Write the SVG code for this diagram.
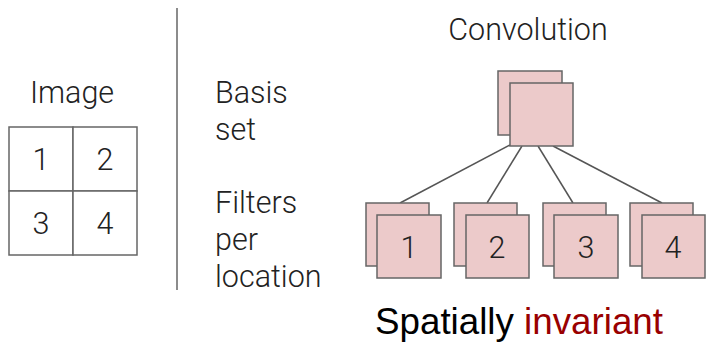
<svg xmlns="http://www.w3.org/2000/svg" width="707" height="344" viewBox="0 0 707 344">
  <style>
    .lbl { font-family: Roboto, "Open Sans", "Liberation Sans", sans-serif; font-weight: 300; font-size: 30.5px; fill: #222; }
    .mid { text-anchor: middle; }
    .cell { fill: #ffffff; stroke: #666666; stroke-width: 1.5; }
    .sq { fill: #eccaca; stroke: #666666; stroke-width: 1.5; }
    .edge { stroke: #555555; stroke-width: 1.5; fill: none; }
    .big { font-family: "Liberation Sans", Arial, sans-serif; font-size: 36px; }
  </style>
  <rect width="707" height="344" fill="#ffffff"/>

  <!-- input image: 2x2 grid of locations -->
  <g id="image">
    <text class="lbl mid" x="72" y="103">Image</text>
    <rect class="cell" x="9" y="127" width="64" height="64"/>
    <rect class="cell" x="73" y="127" width="64" height="64"/>
    <rect class="cell" x="9" y="191" width="64" height="64"/>
    <rect class="cell" x="73" y="191" width="64" height="64"/>
    <text class="lbl mid" x="41" y="170">1</text>
    <text class="lbl mid" x="105" y="170">2</text>
    <text class="lbl mid" x="41" y="234">3</text>
    <text class="lbl mid" x="105" y="234">4</text>
  </g>

  <!-- divider -->
  <line x1="177" y1="8" x2="177" y2="290" stroke="#666666" stroke-width="1.5"/>

  <!-- row labels -->
  <g id="labels">
    <text class="lbl" x="215" y="103">Basis</text>
    <text class="lbl" x="215" y="140">set</text>
    <text class="lbl" x="215" y="213">Filters</text>
    <text class="lbl" x="215" y="250">per</text>
    <text class="lbl" x="215" y="287">location</text>
  </g>

  <text class="lbl mid" x="528" y="40">Convolution</text>

  <!-- connectors from shared filter to each location -->
  <g id="connectors">
    <line class="edge" x1="510" y1="145" x2="400" y2="203"/>
    <line class="edge" x1="522" y1="146" x2="487" y2="203"/>
    <line class="edge" x1="538" y1="146" x2="573" y2="203"/>
    <line class="edge" x1="553" y1="146" x2="662" y2="203"/>
  </g>

  <!-- shared basis filter -->
  <g id="basis">
    <rect class="sq" x="498" y="71" width="64" height="64"/>
    <rect class="sq" x="510" y="83" width="63" height="63"/>
  </g>

  <!-- per-location filters -->
  <g id="filter1">
    <rect class="sq" x="366" y="203" width="63" height="63"/>
    <rect class="sq" x="377" y="215" width="64" height="63"/>
    <text class="lbl mid" x="409" y="258">1</text>
  </g>
  <g id="filter2">
    <rect class="sq" x="454" y="203" width="63" height="63"/>
    <rect class="sq" x="466" y="215" width="63" height="63"/>
    <text class="lbl mid" x="497" y="258">2</text>
  </g>
  <g id="filter3">
    <rect class="sq" x="543" y="203" width="63" height="63"/>
    <rect class="sq" x="554" y="215" width="64" height="63"/>
    <text class="lbl mid" x="586" y="258">3</text>
  </g>
  <g id="filter4">
    <rect class="sq" x="630" y="203" width="63" height="63"/>
    <rect class="sq" x="642" y="215" width="63" height="63"/>
    <text class="lbl mid" x="673" y="258">4</text>
  </g>

  <text class="big" x="375" y="334" textLength="288" lengthAdjust="spacingAndGlyphs"><tspan fill="#000000">Spatially </tspan><tspan fill="#990000">invariant</tspan></text>
</svg>
